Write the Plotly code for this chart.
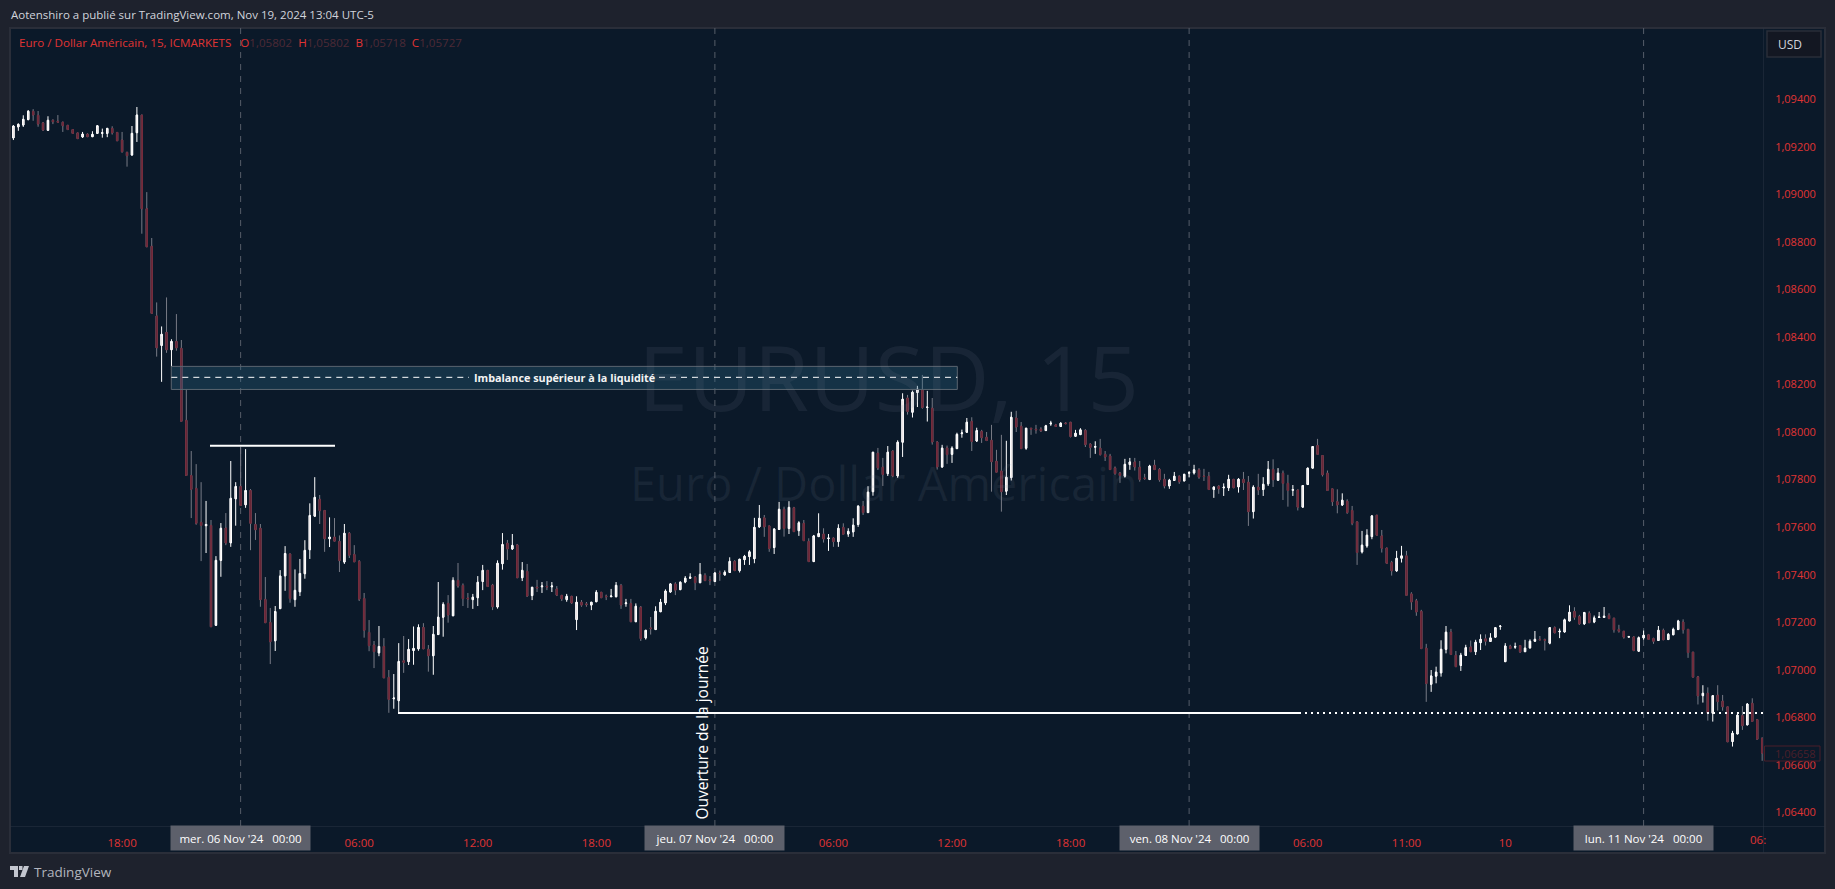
import numpy as np
import plotly.graph_objects as go

# prices are in 1e-5 units (109237 = 1,09237), one bar every 15 minutes
OPEN = [
    109237, 109283, 109291, 109314, 109349, 109332, 109300, 109269, 109311, 109307,
    109303, 109290, 109272, 109258, 109241, 109253, 109242, 109256, 109256, 109256,
    109277, 109260, 109228, 109176, 109165, 109259, 109333, 108939, 108781, 108488,
    108364, 108419, 108346, 108381, 108352, 108049, 107817, 107763, 107620, 107606,
    107607, 107187, 107460, 107596, 107534, 107719, 107771, 107694, 107754, 107611,
    107595, 107296, 107199, 107122, 107257, 107395, 107487, 107295, 107328, 107404,
    107505, 107646, 107717, 107670, 107551, 107558, 107540, 107453, 107574, 107485,
    107456, 107300, 107157, 107104, 107071, 107098, 106968, 106878, 106870, 107038,
    107034, 107081, 107088, 107178, 107086, 107059, 107148, 107221, 107279, 107227,
    107376, 107355, 107302, 107295, 107303, 107371, 107418, 107356, 107264, 107446,
    107532, 107508, 107525, 107387, 107414, 107312, 107348, 107349, 107351, 107349,
    107340, 107313, 107295, 107309, 107211, 107284, 107277, 107272, 107286, 107326,
    107310, 107307, 107307, 107355, 107278, 107279, 107202, 107263, 107134, 107176,
    107169, 107244, 107281, 107327, 107361, 107337, 107369, 107385, 107389, 107366,
    107397, 107378, 107371, 107406, 107399, 107409, 107456, 107417, 107463, 107476,
    107467, 107601, 107639, 107605, 107514, 107590, 107675, 107594, 107681, 107585,
    107616, 107540, 107455, 107560, 107571, 107552, 107554, 107539, 107599, 107571,
    107580, 107611, 107688, 107661, 107749, 107911, 107852, 107825, 107920, 107815,
    107957, 108143, 108083, 108166, 108177, 108103, 108100, 107958, 107853, 107933,
    107906, 107930, 107993, 107999, 108045, 107962, 108003, 107978, 107965, 107877,
    107836, 107751, 107808, 108059, 108024, 107932, 108016, 108012, 108012, 108006,
    108034, 108030, 108023, 108038, 108041, 107982, 107989, 108007, 107949, 107936,
    107932, 107906, 107899, 107849, 107827, 107814, 107863, 107874, 107852, 107807,
    107800, 107860, 107843, 107801, 107773, 107796, 107814, 107794, 107827, 107828,
    107841, 107815, 107814, 107758, 107772, 107765, 107765, 107801, 107769, 107801,
    107789, 107665, 107768, 107758, 107782, 107843, 107797, 107827, 107784, 107755,
    107756, 107684, 107779, 107848, 107943, 107901, 107827, 107761, 107707, 107693,
    107709, 107670, 107622, 107496, 107521, 107560, 107650, 107563, 107512, 107451,
    107416, 107469, 107479, 107319, 107290, 107246, 107091, 106939, 106973, 106987,
    107086, 107159, 107061, 107018, 107060, 107096, 107076, 107114, 107130, 107119,
    107137, 107182, 107034, 107099, 107095, 107102, 107076, 107092, 107120, 107128,
    107127, 107112, 107177, 107159, 107159, 107205, 107245, 107224, 107193, 107238,
    107201, 107220, 107220, 107229, 107217, 107170, 107162, 107137, 107138, 107078,
    107134, 107147, 107131, 107123, 107166, 107127, 107147, 107169, 107201, 107170,
    107074, 106970, 106891, 106901, 106817, 106893, 106868, 106844, 106698, 106730,
    106807, 106768, 106859, 106790, 106712,
]
HIGH = [
    109290, 109298, 109332, 109354, 109358, 109350, 109304, 109328, 109315, 109333,
    109305, 109291, 109273, 109259, 109262, 109256, 109265, 109290, 109276, 109279,
    109286, 109261, 109262, 109179, 109287, 109367, 109334, 109009, 108816, 108545,
    108444, 108566, 108390, 108496, 108387, 108181, 107920, 107865, 107789, 107710,
    107630, 107478, 107617, 107659, 107878, 107789, 107938, 107928, 107760, 107659,
    107613, 107390, 107260, 107268, 107419, 107520, 107489, 107422, 107466, 107545,
    107700, 107810, 107735, 107671, 107641, 107638, 107565, 107613, 107579, 107524,
    107461, 107323, 107209, 107121, 107184, 107133, 106999, 106982, 107112, 107142,
    107129, 107182, 107191, 107196, 107104, 107184, 107369, 107284, 107314, 107389,
    107449, 107363, 107323, 107319, 107394, 107441, 107419, 107361, 107460, 107575,
    107546, 107571, 107529, 107453, 107445, 107348, 107378, 107369, 107373, 107369,
    107352, 107314, 107319, 107310, 107309, 107293, 107285, 107285, 107335, 107327,
    107316, 107340, 107369, 107361, 107298, 107298, 107279, 107268, 107167, 107222,
    107267, 107298, 107338, 107364, 107368, 107372, 107394, 107406, 107394, 107449,
    107406, 107394, 107410, 107417, 107418, 107473, 107461, 107466, 107483, 107503,
    107639, 107693, 107651, 107605, 107595, 107706, 107686, 107709, 107685, 107625,
    107630, 107553, 107567, 107658, 107595, 107571, 107557, 107612, 107616, 107595,
    107637, 107692, 107710, 107772, 107916, 107933, 107891, 107941, 107923, 107965,
    108163, 108156, 108174, 108194, 108240, 108173, 108143, 107961, 107946, 107943,
    107940, 107997, 108010, 108059, 108062, 108018, 108009, 108000, 108030, 107925,
    107988, 107963, 108085, 108089, 108042, 108017, 108016, 108030, 108020, 108030,
    108047, 108034, 108041, 108042, 108042, 108009, 108016, 108012, 107953, 107961,
    107971, 107920, 107908, 107855, 107832, 107887, 107891, 107891, 107878, 107824,
    107862, 107883, 107848, 107824, 107803, 107832, 107817, 107824, 107836, 107862,
    107848, 107845, 107832, 107772, 107776, 107784, 107820, 107802, 107806, 107832,
    107815, 107776, 107824, 107810, 107878, 107885, 107848, 107838, 107820, 107777,
    107758, 107777, 107850, 107940, 107971, 107902, 107838, 107762, 107759, 107742,
    107717, 107689, 107623, 107584, 107591, 107651, 107651, 107588, 107513, 107458,
    107500, 107521, 107500, 107326, 107298, 107252, 107109, 106999, 107013, 107124,
    107184, 107172, 107079, 107071, 107105, 107123, 107126, 107149, 107149, 107154,
    107179, 107187, 107112, 107105, 107114, 107103, 107126, 107128, 107163, 107142,
    107131, 107179, 107182, 107173, 107215, 107271, 107263, 107231, 107243, 107246,
    107228, 107243, 107264, 107238, 107218, 107189, 107163, 107142, 107141, 107140,
    107165, 107149, 107135, 107184, 107173, 107154, 107177, 107210, 107212, 107171,
    107075, 106974, 106935, 106926, 106892, 106935, 106894, 106845, 106743, 106821,
    106847, 106859, 106880, 106793, 106715,
]
LOW = [
    109228, 109267, 109283, 109311, 109309, 109284, 109266, 109267, 109295, 109301,
    109262, 109271, 109255, 109233, 109237, 109241, 109241, 109255, 109238, 109240,
    109251, 109224, 109175, 109116, 109162, 109220, 108834, 108778, 108498, 108317,
    108211, 108333, 108275, 108342, 108045, 107816, 107638, 107610, 107457, 107491,
    107181, 107185, 107391, 107524, 107517, 107606, 107690, 107681, 107503, 107546,
    107265, 107198, 107024, 107079, 107257, 107332, 107282, 107265, 107310, 107383,
    107466, 107644, 107613, 107496, 107516, 107538, 107411, 107445, 107470, 107454,
    107289, 107135, 107078, 107007, 107057, 106966, 106819, 106836, 106818, 106987,
    107020, 107021, 107080, 107087, 106992, 106979, 107148, 107139, 107198, 107227,
    107345, 107268, 107260, 107256, 107268, 107335, 107349, 107251, 107257, 107421,
    107462, 107504, 107387, 107373, 107307, 107293, 107327, 107323, 107335, 107327,
    107310, 107289, 107286, 107277, 107167, 107265, 107265, 107251, 107285, 107303,
    107293, 107307, 107305, 107256, 107265, 107202, 107201, 107121, 107127, 107148,
    107169, 107244, 107272, 107324, 107314, 107335, 107364, 107383, 107335, 107366,
    107373, 107356, 107371, 107374, 107396, 107407, 107417, 107409, 107441, 107441,
    107448, 107597, 107559, 107496, 107487, 107590, 107560, 107571, 107581, 107563,
    107543, 107455, 107455, 107559, 107535, 107500, 107517, 107517, 107570, 107559,
    107559, 107601, 107651, 107661, 107732, 107840, 107773, 107815, 107810, 107807,
    107895, 108073, 108061, 108105, 108098, 108044, 107947, 107842, 107849, 107866,
    107870, 107929, 107976, 107998, 107920, 107958, 107954, 107962, 107749, 107831,
    107665, 107735, 107796, 108000, 107929, 107925, 107988, 107993, 108000, 108005,
    108026, 108021, 108023, 108034, 107977, 107981, 107988, 107937, 107891, 107908,
    107901, 107878, 107841, 107820, 107786, 107808, 107841, 107838, 107791, 107799,
    107800, 107842, 107791, 107763, 107761, 107796, 107782, 107794, 107810, 107821,
    107803, 107794, 107758, 107723, 107740, 107731, 107752, 107763, 107745, 107756,
    107605, 107636, 107735, 107731, 107773, 107769, 107797, 107714, 107686, 107731,
    107670, 107684, 107779, 107848, 107906, 107813, 107754, 107689, 107658, 107689,
    107656, 107608, 107441, 107489, 107513, 107549, 107566, 107493, 107445, 107396,
    107412, 107451, 107313, 107252, 107227, 107089, 106865, 106907, 106943, 106971,
    107069, 107064, 107013, 106995, 107060, 107076, 107062, 107083, 107102, 107119,
    107137, 107168, 107034, 107089, 107088, 107071, 107076, 107089, 107120, 107126,
    107081, 107107, 107155, 107133, 107156, 107205, 107210, 107189, 107189, 107198,
    107196, 107220, 107220, 107215, 107156, 107156, 107131, 107136, 107078, 107077,
    107126, 107128, 107109, 107123, 107126, 107126, 107147, 107169, 107152, 107050,
    106969, 106854, 106862, 106786, 106782, 106828, 106828, 106697, 106677, 106729,
    106747, 106767, 106783, 106706, 106617,
]
CLOSE = [
    109287, 109294, 109315, 109349, 109333, 109295, 109270, 109311, 109305, 109303,
    109288, 109272, 109256, 109234, 109253, 109242, 109252, 109288, 109259, 109277,
    109258, 109225, 109179, 109162, 109256, 109333, 108939, 108779, 108499, 108354,
    108411, 108346, 108381, 108354, 108045, 107817, 107759, 107616, 107607, 107611,
    107181, 107460, 107595, 107533, 107721, 107771, 107691, 107754, 107616, 107589,
    107295, 107198, 107118, 107245, 107394, 107489, 107299, 107334, 107405, 107502,
    107649, 107725, 107669, 107551, 107558, 107541, 107459, 107574, 107482, 107454,
    107297, 107166, 107101, 107076, 107098, 106966, 106875, 106881, 107035, 107031,
    107086, 107090, 107178, 107088, 107059, 107149, 107221, 107275, 107230, 107376,
    107352, 107299, 107298, 107305, 107368, 107418, 107350, 107265, 107448, 107527,
    107508, 107523, 107387, 107418, 107310, 107347, 107344, 107352, 107348, 107352,
    107314, 107298, 107309, 107281, 107284, 107272, 107274, 107284, 107326, 107303,
    107307, 107310, 107355, 107272, 107281, 107202, 107267, 107131, 107166, 107173,
    107246, 107284, 107331, 107361, 107335, 107368, 107385, 107389, 107366, 107401,
    107375, 107375, 107407, 107404, 107410, 107456, 107417, 107465, 107477, 107496,
    107599, 107637, 107601, 107510, 107592, 107675, 107594, 107683, 107581, 107618,
    107543, 107455, 107563, 107573, 107550, 107554, 107539, 107595, 107570, 107582,
    107608, 107688, 107661, 107747, 107915, 107849, 107821, 107915, 107815, 107957,
    108138, 108086, 108167, 108180, 108103, 108105, 107958, 107853, 107932, 107905,
    107932, 107990, 107996, 108041, 107960, 108006, 107976, 107964, 107875, 107831,
    107749, 107810, 108062, 108021, 107930, 108016, 108012, 108009, 108005, 108026,
    108037, 108023, 108037, 108035, 107981, 107995, 108009, 107947, 107935, 107939,
    107905, 107895, 107842, 107825, 107817, 107864, 107874, 107853, 107800, 107804,
    107857, 107842, 107799, 107773, 107797, 107814, 107791, 107822, 107829, 107841,
    107810, 107813, 107758, 107768, 107761, 107768, 107801, 107766, 107801, 107787,
    107665, 107768, 107756, 107780, 107843, 107799, 107827, 107784, 107754, 107758,
    107684, 107775, 107848, 107939, 107906, 107820, 107754, 107707, 107693, 107713,
    107661, 107616, 107493, 107524, 107566, 107647, 107566, 107511, 107448, 107416,
    107469, 107479, 107313, 107285, 107243, 107089, 106942, 106974, 106990, 107086,
    107158, 107064, 107013, 107061, 107093, 107076, 107116, 107128, 107120, 107134,
    107177, 107184, 107100, 107089, 107098, 107075, 107091, 107120, 107128, 107126,
    107124, 107177, 107155, 107162, 107210, 107242, 107221, 107193, 107241, 107198,
    107218, 107222, 107225, 107215, 107168, 107162, 107137, 107140, 107081, 107135,
    107145, 107128, 107120, 107166, 107126, 107149, 107170, 107205, 107168, 107072,
    106969, 106890, 106901, 106817, 106891, 106866, 106844, 106697, 106733, 106809,
    106765, 106856, 106783, 106708, 106649,
]

PRICE_TICKS = [1.064, 1.066, 1.068, 1.07, 1.072, 1.074, 1.076, 1.078, 1.08, 1.082, 1.084, 1.086, 1.088, 1.09, 1.092, 1.094]
TIME_TICK_BARS = [22, 70, 94, 118, 166, 190, 214, 262, 282, 302]
TIME_TICK_TEXT = ["18:00", "06:00", "12:00", "18:00", "06:00", "12:00", "18:00", "06:00", "11:00", "10"]
DAY_BARS = [46, 142, 238, 330]
DAY_TEXT = ["mer. 06 Nov '24", "jeu. 07 Nov '24", "ven. 08 Nov '24", "lun. 11 Nov '24"]

IMBALANCE_TOP = 1.08276
IMBALANCE_BOTTOM = 1.08179
IMBALANCE_MID = 1.0823
HIGH_LEVEL = 1.07942
LOW_LEVEL = 1.06818
LAST_PRICE = "1,06658"

W, H = 1835, 889
PLOT_L, PLOT_R, PLOT_T, PLOT_B = 10, 1763, 28, 826
BAR_X0, BAR_STEP = 13.4, 4.94

PAGE = "#1e222d"
PANE = "#0b1929"
FRAME = "#2a2e39"
AXIS = "#2a3545"
RED = "#e03434"
DIM = "#4d2a36"
FONT = "Open Sans"


def px(x):
    return (x - PLOT_L) / (PLOT_R - PLOT_L)


def py(y):
    return 1 - (y - PLOT_T) / (PLOT_B - PLOT_T)


def bar_at(x):
    return (x - BAR_X0) / BAR_STEP


def price_at(y):
    return 1.08 + (432 - y) * 4.206e-5


def paper_rect(x0, y0, x1, y1, fill, line=None, width=1, layer="below"):
    return dict(
        type="rect", xref="paper", yref="paper", x0=px(x0), x1=px(x1), y0=py(y0), y1=py(y1),
        fillcolor=fill, line=dict(color=line or fill, width=width if line else 0), layer=layer,
    )


def paper_path(points, fill):
    d = "M " + " L ".join(f"{px(x)},{py(y)}" for x, y in points) + " Z"
    return dict(type="path", xref="paper", yref="paper", path=d, fillcolor=fill, line=dict(width=0), layer="above")


def label(x, y, text, size=11, color="#d1d4dc", anchor="left", **kw):
    return dict(
        xref="paper", yref="paper", x=px(x), y=py(y), text=text, showarrow=False, xanchor=anchor, yanchor="middle",
        font=dict(family=FONT, size=size, color=color), **kw,
    )


opens = np.array(OPEN) / 1e5
closes = np.array(CLOSE) / 1e5
highs = np.maximum(np.array(HIGH) / 1e5, np.maximum(opens, closes))
lows = np.minimum(np.array(LOW) / 1e5, np.minimum(opens, closes))
bars = np.arange(len(opens))

fig = go.Figure()
# wicks first: white on rising bars, grey on falling ones
fig.add_trace(go.Candlestick(
    x=bars, open=opens, high=highs, low=lows, close=closes, whiskerwidth=0, hoverinfo="skip",
    increasing=dict(line=dict(color="#ffffff", width=1), fillcolor="#ffffff"),
    decreasing=dict(line=dict(color="#787b86", width=1), fillcolor="#787b86"),
))
# bodies on top, so falling bars get a maroon outline
fig.add_trace(go.Candlestick(
    x=bars, open=opens, high=np.maximum(opens, closes), low=np.minimum(opens, closes), close=closes,
    whiskerwidth=0, hoverinfo="skip",
    increasing=dict(line=dict(color="#ffffff", width=1), fillcolor="#d9c8ca"),
    decreasing=dict(line=dict(color="#742c3c", width=1), fillcolor="#5c2233"),
))

shapes = [
    paper_rect(0, 0, W, H, PAGE),
    paper_rect(10, 28, 1825, 853, PANE, FRAME, 2),
    paper_rect(1763, 28, 1763.5, 853, AXIS),
    paper_rect(10, 826, 1825, 826.5, AXIS),
]
for bar in DAY_BARS:
    shapes.append(dict(
        type="line", xref="x", yref="paper", x0=bar, x1=bar, y0=0, y1=1,
        line=dict(color="#565d69", width=1, dash="6px,6px"), layer="below",
    ))
shapes.append(dict(
    type="rect", xref="x", yref="y", x0=bar_at(171.3), x1=bar_at(957.3), y0=IMBALANCE_BOTTOM, y1=IMBALANCE_TOP,
    fillcolor="rgba(45,110,140,0.3)", line=dict(color="#5a6570", width=1), layer="above",
))
for x0, x1 in [(171.3, 469), (659, 957.3)]:
    shapes.append(dict(
        type="line", xref="x", yref="y", x0=bar_at(x0), x1=bar_at(x1), y0=IMBALANCE_MID, y1=IMBALANCE_MID,
        line=dict(color="#ffffff", width=1, dash="6px,5px"), layer="above",
    ))
shapes.append(dict(
    type="line", xref="x", yref="y", x0=bar_at(210), x1=bar_at(335), y0=HIGH_LEVEL, y1=HIGH_LEVEL,
    line=dict(color="#ffffff", width=2), layer="above",
))
shapes.append(dict(
    type="line", xref="x", yref="y", x0=bar_at(398), x1=bar_at(1299), y0=LOW_LEVEL, y1=LOW_LEVEL,
    line=dict(color="#ffffff", width=2), layer="above",
))
shapes.append(dict(
    type="line", xref="x", yref="y", x0=bar_at(1299), x1=bar_at(1763), y0=LOW_LEVEL, y1=LOW_LEVEL,
    line=dict(color="#ffffff", width=2, dash="2px,4px"), layer="above",
))
shapes.append(paper_rect(1764.5, 746, 1820, 761, "rgba(0,0,0,0)", "#4a1f2a", 1, "above"))
shapes.append(paper_rect(1767, 31, 1821, 57, "#131722", "#2a2e39", 1.5, "above"))
# TradingView logo
shapes.append(paper_path([(10, 866), (18, 866), (18, 877), (14, 877), (14, 870), (10, 870)], "#c3c6cf"))
shapes.append(paper_path([(24, 866), (29, 866), (25, 877), (20, 877)], "#c3c6cf"))
shapes.append(paper_path([(19, 866), (22.5, 866), (22.5, 870), (19, 870)], "#c3c6cf"))

legend = (
    f"<span style='color:{RED}'>Euro / Dollar Américain, 15, ICMARKETS</span>"
    f"\u00a0\u00a0\u00a0<span style='color:{RED}'>O</span><span style='color:{DIM}'>1,05802</span>"
    f"\u00a0\u00a0<span style='color:{RED}'>H</span><span style='color:{DIM}'>1,05802</span>"
    f"\u00a0\u00a0<span style='color:{RED}'>B</span><span style='color:{DIM}'>1,05718</span>"
    f"\u00a0\u00a0<span style='color:{RED}'>C</span><span style='color:{DIM}'>1,05727</span>"
)

watermark = "rgba(120,130,150,0.12)"
annotations = [
    label(9, 15, "Aotenshiro a publié sur TradingView.com, Nov 19, 2024 13:04 UTC-5", size=11.5, color="#d1d4dc"),
    label(17, 42, legend, size=11.6, color=RED),
    label(888, 376, "EURUSD, 15", size=90, color=watermark, anchor="center"),
    label(884, 483, "Euro / Dollar Américain", size=47, color=watermark, anchor="center"),
    label(1776, 44, "USD", size=12, color="#d1d4dc"),
    label(32, 872, "TradingView", size=13.5, color="#b2b5be"),
    label(1773, 753.5, LAST_PRICE, size=11, color="#4a1f2a"),
    label(1748, 839.5, "06:", size=11.5, color=RED),
    dict(
        xref="paper", yref="paper", x=px(701), y=py(733.5), text="Ouverture de la journée", textangle=-90,
        showarrow=False, xanchor="center", yanchor="middle", font=dict(family=FONT, size=15.5, color="#ffffff"),
    ),
    dict(
        xref="x", yref="y", x=bar_at(564), y=IMBALANCE_MID, text="<b>Imbalance supérieur à la liquidité</b>",
        showarrow=False, xanchor="center", yanchor="middle", font=dict(family=FONT, size=10.8, color="#f4f4f4"),
    ),
]
for bar, day in zip(DAY_BARS, DAY_TEXT):
    annotations.append(dict(
        xref="x", yref="paper", x=bar, y=py(838), text=f"{day}\u00a0\u00a0\u00a000:00", showarrow=False,
        xanchor="center", yanchor="middle", width=139, height=24, bgcolor="#5d606b", borderpad=0,
        font=dict(family=FONT, size=11.5, color="#ffffff"),
    ))

fig.update_layout(
    width=W,
    height=H,
    autosize=False,
    margin=dict(l=PLOT_L, r=W - PLOT_R, t=PLOT_T, b=H - PLOT_B, pad=0),
    paper_bgcolor=PAGE,
    plot_bgcolor="rgba(0,0,0,0)",
    showlegend=False,
    separators=", ",
    boxgap=0.6,
    shapes=shapes,
    annotations=annotations,
    xaxis=dict(
        range=[bar_at(PLOT_L), bar_at(PLOT_R)], rangeslider=dict(visible=False), showgrid=False, zeroline=False,
        tickmode="array", tickvals=TIME_TICK_BARS, ticktext=TIME_TICK_TEXT, ticks="outside", ticklen=6,
        tickcolor="rgba(0,0,0,0)", tickfont=dict(family=FONT, size=11.5, color=RED),
    ),
    yaxis=dict(
        range=[price_at(PLOT_B), price_at(PLOT_T)], side="right", showgrid=False, zeroline=False,
        tickmode="array", tickvals=PRICE_TICKS, tickformat=".5f", ticks="outside", ticklen=9,
        tickcolor="rgba(0,0,0,0)", tickfont=dict(family=FONT, size=11, color=RED),
    ),
)

fig.write_html(
    "out.html",
    config=dict(displayModeBar=False),
    post_script="document.body.style.margin='0';document.body.style.overflow='hidden';",
)
